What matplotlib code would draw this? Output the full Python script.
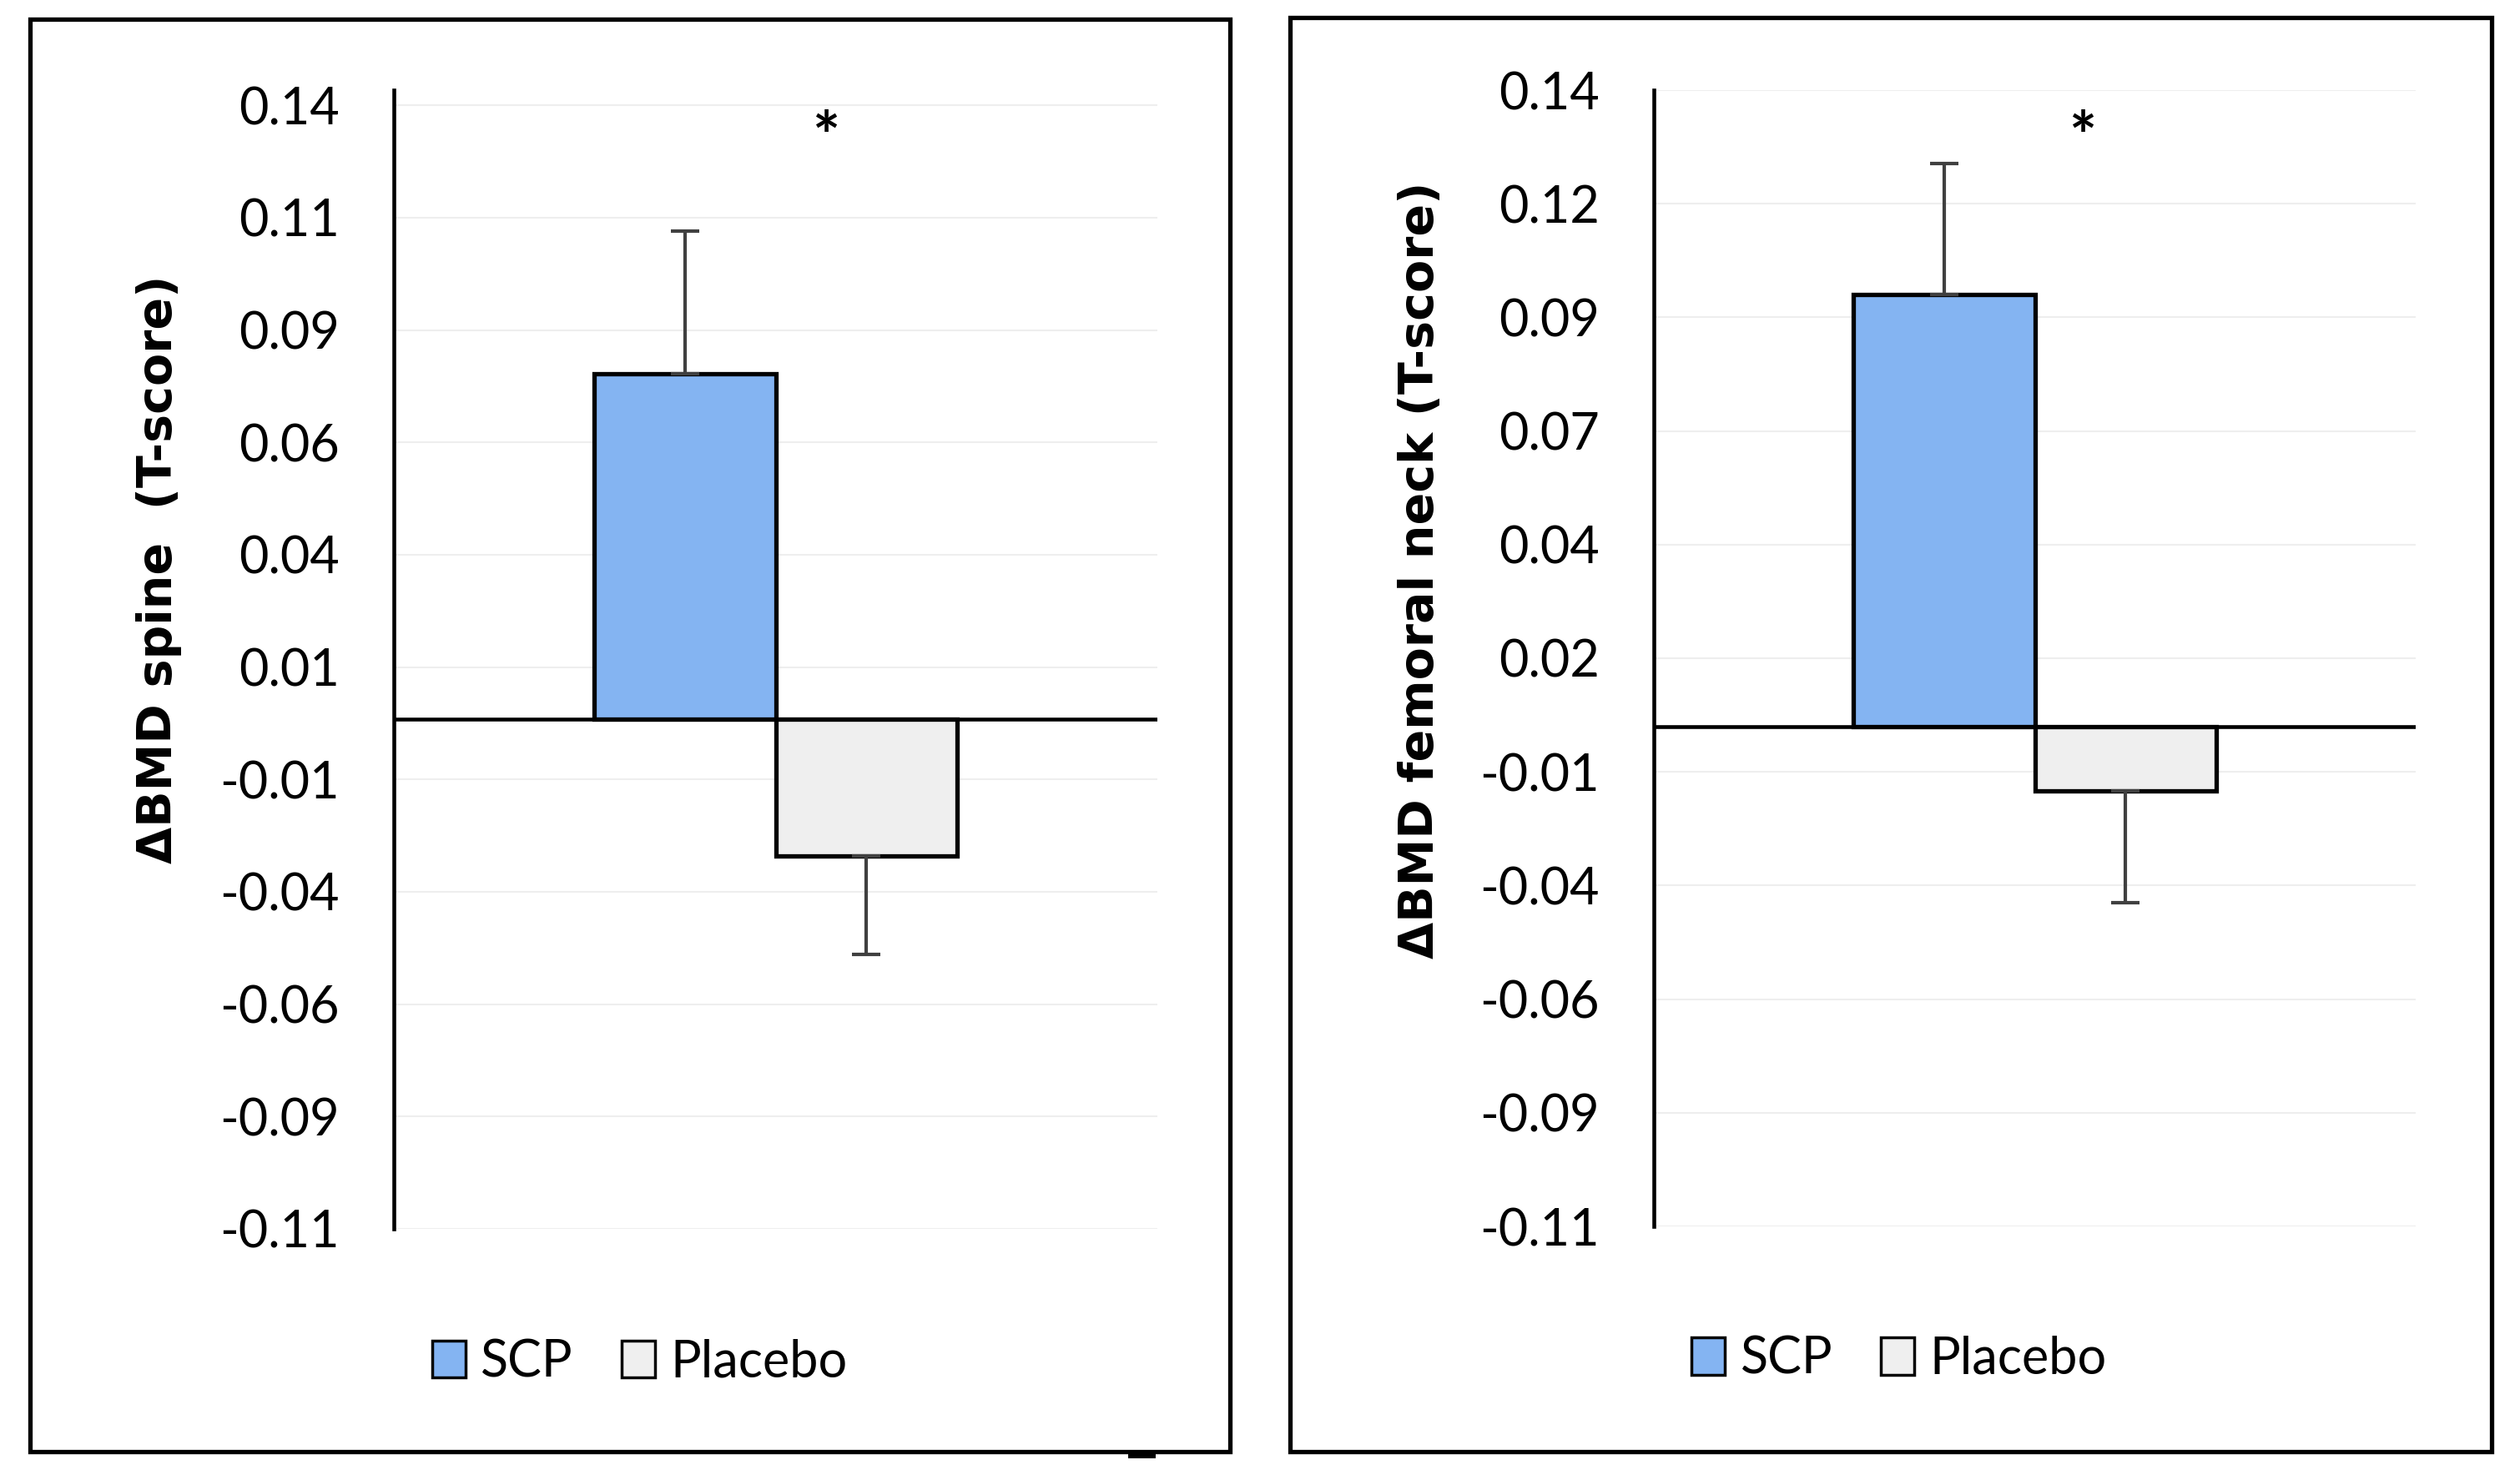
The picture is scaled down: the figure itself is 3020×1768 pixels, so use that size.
import matplotlib
matplotlib.use("Agg")
import matplotlib.pyplot as plt
from matplotlib.patches import Patch, Rectangle
import numpy as np

# data
groups = ['SCP', 'Placebo']
spine_mean = [0.0769, -0.0304]
spine_err = [0.0317, 0.0219]
neck_mean = [0.0951, -0.0141]
neck_err = [0.0288, 0.0246]

spine_ticklabels = ['-0.11', '-0.09', '-0.06', '-0.04', '-0.01', '0.01',
                    '0.04', '0.06', '0.09', '0.11', '0.14']
neck_ticklabels = ['-0.11', '-0.09', '-0.06', '-0.04', '-0.01', '0.02',
                   '0.04', '0.07', '0.09', '0.12', '0.14']

colors = ['#84B4F2', '#EFEFEF']
tick_font = 'Lato'
label_font = 'DejaVu Sans'

W, H = 3020, 1768
fig = plt.figure(figsize=(W / 100, H / 100), dpi=100)


def panel(rect, means, errs, ticklabels, tick0, ymax, ylabel, lab_xy, star_x):
    ax = fig.add_axes(rect)
    step = 0.025
    ticks = tick0 + step * np.arange(len(ticklabels))
    ax.set_ylim(tick0, ymax)
    ax.set_xlim(-0.5, 0.5)
    ax.set_yticks(ticks)
    ax.set_yticklabels(ticklabels, fontfamily=tick_font, fontsize=44)
    ax.set_xticks([])
    ax.tick_params(axis='y', length=0, pad=47)
    for s in ['top', 'right', 'bottom']:
        ax.spines[s].set_visible(False)
    ax.spines['left'].set_linewidth(3.3)
    ax.yaxis.grid(True, color='#EEEEEE', linewidth=1.5)
    ax.set_axisbelow(True)

    xpos = [-0.119, 0.119]
    for i in range(len(groups)):
        if means[i] >= 0:
            yerr = [[0], [errs[i]]]
        else:
            yerr = [[errs[i]], [0]]
        ax.bar(xpos[i], means[i], width=0.238, color=colors[i],
               edgecolor='black', linewidth=3.8, zorder=2)
        ax.errorbar(xpos[i], means[i], yerr=yerr, fmt='none', ecolor='#404040',
                    elinewidth=3, capsize=12.5, capthick=3, zorder=3)
    ax.axhline(0, color='black', linewidth=3.3, zorder=4)

    ax.text(lab_xy[0], lab_xy[1], ylabel, transform=ax.transAxes, rotation=90,
            ha='center', va='center', fontfamily=label_font, fontweight='bold',
            fontsize=41)
    ax.text(star_x, 0.955, '*', transform=ax.transAxes, ha='center', va='center',
            fontfamily=tick_font, fontweight='bold', fontsize=56)

    handles = [Patch(facecolor=colors[i], edgecolor='black', linewidth=2.5)
               for i in range(len(groups))]
    ax.legend(handles, groups, loc='center', bbox_to_anchor=(0.322, -0.117),
              ncol=2, frameon=False, prop={'family': tick_font, 'size': 44},
              handlelength=0.65, handleheight=0.75, handletextpad=0.3,
              columnspacing=0.95, borderpad=0)
    return ax


panel([472 / W, 1 - 1473 / H, 915 / W, 1365 / H], spine_mean, spine_err,
      spine_ticklabels, -0.1134, 0.14, u'\u0394BMD spine  (T-score)',
      (-0.308, 0.579), 0.566)
panel([1982 / W, 1 - 1470 / H, 913 / W, 1362 / H], neck_mean, neck_err,
      neck_ticklabels, -0.11, 0.14, u'\u0394BMD femoral neck (T-score)',
      (-0.306, 0.5775), 0.562)

# outer frames around each chart
for x0, x1, y0 in [(36, 1474, 23), (1546, 2986, 21)]:
    fig.add_artist(Rectangle((x0 / W, 1 - 1740 / H), (x1 - x0) / W,
                             (1740 - y0) / H, transform=fig.transFigure,
                             fill=False, edgecolor='black', linewidth=3.8))
fig.add_artist(Rectangle((1352 / W, 1 - 1748 / H), 33 / W, 7 / H,
                         transform=fig.transFigure, color='black', lw=0))

fig.savefig('out.png', dpi=100, facecolor='white')
